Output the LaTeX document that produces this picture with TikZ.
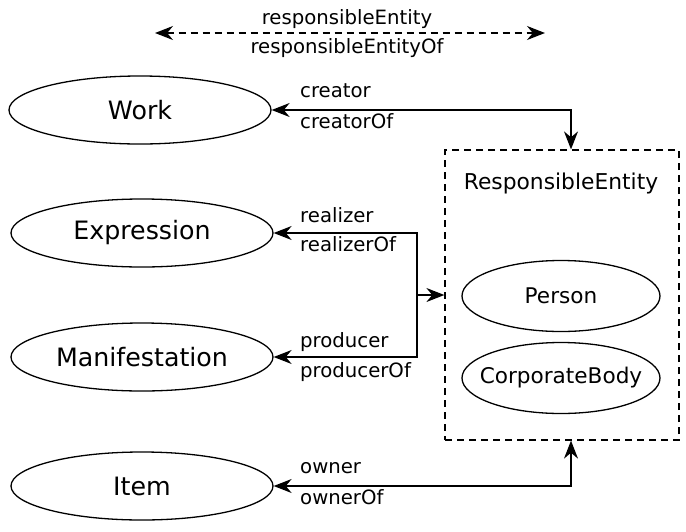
\documentclass[tikz,border=0pt]{standalone}
\usepackage{fontspec}
\setmainfont{DejaVu Sans}
\usetikzlibrary{arrows.meta,shapes.geometric}
\tikzset{
  cls/.style={draw, ellipse, line width=1.3pt, inner sep=0pt,
    minimum width=262pt, minimum height=68pt, font=\fontsize{25.3}{29}\selectfont},
  sub/.style={draw, ellipse, line width=1.3pt, inner ysep=0pt, inner xsep=-15pt,
    minimum width=198pt, minimum height=71pt, font=\fontsize{21.6}{25}\selectfont},
  lbl/.style={anchor=west, inner sep=0pt, font=\fontsize{19.7}{23}\selectfont},
  rel/.style={line width=1.4pt},
  tip/.tip={Stealth[length=18pt,width=14pt]},
  dsh/.style={dash pattern=on 7pt off 5pt},
}
\begin{document}
\begin{tikzpicture}[x=1pt,y=-1pt]
  \useasboundingbox (0,0) rectangle (686,531);
  % classes on the left
  \node[cls] (work) at (140,110) {Work};
  \node[cls] (expr) at (142,233) {Expression};
  \node[cls] (manif) at (142,357) {Manifestation};
  \node[cls] (item) at (142,486) {Item};
  % responsible entity box
  \node[draw, dsh, line width=1.2pt, inner sep=0pt, minimum width=234pt,
    minimum height=290pt] (re) at (562,295) {};
  \node[inner sep=0pt, font=\fontsize{21.8}{25}\selectfont] (retitle) at (561,183) {ResponsibleEntity};
  \node[sub] (person) at (561,296) {Person};
  \node[sub] (corp) at (561,378) {CorporateBody};
  % top legend
  \coordinate (tl) at (155,33);
  \coordinate (tr) at (545,33);
  \draw[rel, dsh, tip-tip] (tl) -- (tr);
  \node[inner sep=0pt, font=\fontsize{19.7}{23}\selectfont] (rtop) at (347,19) {responsibleEntity};
  \node[inner sep=0pt, font=\fontsize{19.7}{23}\selectfont] (rbot) at (347,48) {responsibleEntityOf};
  % connectors
  \coordinate (cc) at (571,110);
  \coordinate (jn) at (417,295);
  \draw[rel, tip-tip] (work.east) -| (cc |- re.north);
  \draw[rel, tip-tip] (expr.east) -| (jn) |- (manif.east);
  \draw[rel, -tip] (jn) -- (jn -| re.west);
  \draw[rel, tip-tip] (item.east) -| (cc |- re.south);
  % role labels
  \node[lbl] (l1) at (300,91) {creator};
  \node[lbl] (l2) at (300,121) {creatorOf};
  \node[lbl] (l3) at (300,215) {realizer};
  \node[lbl] (l4) at (300,244) {realizerOf};
  \node[lbl] (l5) at (300,342) {producer};
  \node[lbl] (l6) at (300,372) {producerOf};
  \node[lbl] (l7) at (300,468) {owner};
  \node[lbl] (l8) at (300,497) {ownerOf};
\end{tikzpicture}
\end{document}
